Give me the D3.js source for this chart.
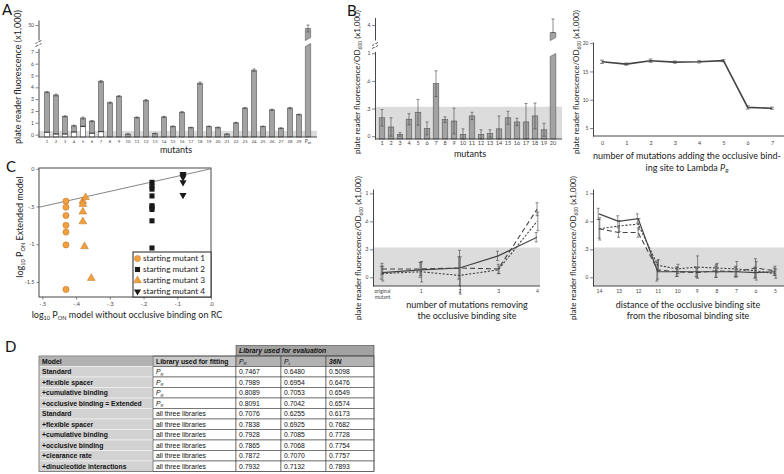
<!DOCTYPE html>
<html lang="en">
<head>
<meta charset="UTF-8">
<title>Occlusive binding site figure</title>
<style>
  body { margin: 0; background: #fff; }
  svg { display: block; font-family: Lato, 'Open Sans', sans-serif; }
  .tbl text { font-family: 'Liberation Sans', Arial, sans-serif; font-size: 6.8px; fill: #111; }
</style>
</head>
<body>
<svg id="fig" width="784" height="474"></svg>
<script src="https://d3js.org/d3.v7.min.js"></script>
<script>
// ---------- data ----------
// Panel A: 29 mutants + wild type promoter
const mutantsA = ["1","2","3","4","5","6","7","8","9","10","11","12","13","14","15","16","17","18","19","20","21","22","23","24","25","26","27","28","29","Pwt"];
const fluorA = [3.6,3.35,1.55,0.75,1.4,1.15,4.5,2.7,3.25,0.05,1.45,2.9,0.1,1.5,0.7,1.9,0.6,4.35,0.7,0.6,0.05,1.0,2.25,5.45,0.7,2.1,0.55,2.25,1.7,49.3];
const errA = [0.05,0.08,0.05,0.05,0.08,0.05,0.08,0.06,0.05,0.02,0.05,0.07,0.03,0.05,0.04,0.05,0.03,0.1,0.03,0.04,0.02,0.05,0.05,0.1,0.03,0.05,0.03,0.05,0.04,0.7];
const originalA = [0.2,0.05,0.05,0.22,0.7,0.12,0.25,0,0,0,0,0,0,0,0,0,0,0,0,0,0,0,0,0,0,0,0,0,0,0];
const yTicksA = [0,1,2,3,4,5,6,7];

// Panel B (top left): 20 mutants
const mutantsB = ["1","2","3","4","5","6","7","8","9","10","11","12","13","14","15","16","17","18","19","20"];
const fluorB = [0.20,0.10,0.02,0.185,0.26,0.085,0.57,0.18,0.165,0.02,0.22,0.02,0.03,0.08,0.20,0.155,0.155,0.22,0.07,3.5];
const errB = [0.09,0.1,0.02,0.06,0.14,0.07,0.14,0.03,0.14,0.06,0.04,0.05,0.04,0.14,0.07,0.04,0.2,0.14,0.07,0.9];
const odTicks = [0, 0.3, 0.6, 0.9];
const odTickLabels = ["0", ".3", ".6", "1"];

// Panel B (top right): mutations adding the site to Lambda PR
const addSteps = [0,1,2,3,4,5,6,7];
const addVals = [16.7,16.3,16.9,16.65,16.7,16.9,8.65,8.5];
const addErr = [0.3,0.2,0.3,0.2,0.2,0.2,0.3,0.2];
const addTicks = [5,10,15,20];

// Panel B (bottom middle): mutations removing the site
const removeSteps = ["original mutant","1","2","3","4"];
const removeSolid = [0.05,0.08,0.10,0.23,0.43];
const removeSolidErr = [0.07,0.08,0.12,0.05,0.05];
const removeLong = [0.09,0.09,0.10,0.09,0.73];
const removeLongErr = [0.06,0.07,0.19,0.05,0.07];
const removeDot = [0.04,0.06,0.02,0.08,0.60];
const removeDotErr = [0.08,0.11,0.2,0.04,0.1];

// Panel B (bottom right): distance to the ribosomal binding site
const distances = ["14","13","12","11","10","9","8","7","6","5"];
const distSolid = [0.68,0.60,0.63,0.06,0.06,0.06,0.06,0.06,0.05,0.06];
const distSolidErr = [0.06,0.06,0.05,0.1,0.05,0.05,0.06,0.05,0.06,0.04];
const distDot = [0.52,0.55,0.57,0.13,0.09,0.11,0.10,0.09,0.07,0.04];
const distDotErr = [0.12,0.06,0.06,0.06,0.05,0.12,0.05,0.08,0.1,0.05];
const distLong = [0.52,0.48,0.48,0.08,0.06,0.05,0.07,0.06,0.10,0.07];
const distLongErr = [0.1,0.05,0.05,0.1,0.05,0.05,0.07,0.06,0.1,0.05];

// Panel C: log10 PON, model without occlusion (x) vs Extended model (y)
const mut1X = [-0.43,-0.43,-0.43,-0.43,-0.43,-0.43,-0.43];
const mut1Y = [-0.43,-0.51,-0.62,-0.75,-0.84,-1.01,-1.60];
const mut2X = [-0.175,-0.175,-0.175,-0.175,-0.175,-0.175,-0.175,-0.175,-0.175];
const mut2Y = [-0.18,-0.23,-0.27,-0.36,-0.49,-0.51,-0.54,-0.69,-1.05];
const mut3X = [-0.38,-0.38,-0.38,-0.38,-0.372,-0.375,-0.355];
const mut3Y = [-0.43,-0.47,-0.57,-0.70,-0.38,-1.03,-1.45];
const mut4X = [-0.083,-0.083,-0.083,-0.083,-0.083];
const mut4Y = [-0.07,-0.09,-0.115,-0.18,-0.35];
const cXTicks = [-0.5,-0.4,-0.3,-0.2,-0.1,0];
const cXTickLabels = ["-.5","-.4","-.3","-.2","-.1",".0"];
const cYTicks = [0,-0.5,-1,-1.5];
const cYTickLabels = ["0","-.5","-1","-1.5"];
const legendC = ["starting mutant 1","starting mutant 2","starting mutant 3","starting mutant 4"];

// Panel D: table
const models = ["Standard","+flexible spacer","+cumulative binding","+occlusive binding = Extended","Standard","+flexible spacer","+cumulative binding","+occlusive binding","+clearance rate","+dinucleotide interactions"];
const fitLibs = ["PR","PR","PR","PR","all three libraries","all three libraries","all three libraries","all three libraries","all three libraries","all three libraries"];
const evalPR = ["0.7467","0.7989","0.8089","0.8091","0.7076","0.7838","0.7928","0.7865","0.7872","0.7932"];
const evalPL = ["0.6480","0.6954","0.7053","0.7042","0.6255","0.6925","0.7085","0.7068","0.7070","0.7132"];
const eval36N = ["0.5098","0.6476","0.6549","0.6574","0.6173","0.7682","0.7728","0.7754","0.7757","0.7893"];

// ---------- helpers ----------
const svg = d3.select("#fig");
const BAR = "#a3a3a3", BAR_EDGE = "#555", BAND = "#dcdcdc", INK = "#333", LINE = "#444";

function styleAxis(g, size) {
  g.attr("font-family", "Lato, sans-serif").attr("font-size", size);
  g.selectAll("text").attr("fill", "#444");
  g.selectAll(".tick line").attr("stroke", INK).attr("stroke-width", 0.6);
  g.select(".domain").attr("stroke", INK).attr("stroke-width", 0.9);
}

// text with sub/italic pieces
function richText(g, parts) {
  parts.forEach(p => {
    const ts = g.append("tspan").text(p.t);
    if (p.i) ts.attr("font-style", "italic");
    if (p.sub) ts.attr("font-size", "0.62em").attr("dy", p.dy || 2);
    if (p.up) ts.attr("dy", -p.up);
  });
  return g;
}

function rotLabel(x, y, size, parts) {
  const t = svg.append("text")
    .attr("transform", `translate(${x},${y}) rotate(-90)`)
    .attr("text-anchor", "middle").attr("font-size", size).attr("fill", "#222");
  richText(t, parts);
}

function label(x, y, size, parts, anchor) {
  const t = svg.append("text").attr("x", x).attr("y", y)
    .attr("text-anchor", anchor || "middle").attr("font-size", size).attr("fill", "#222");
  richText(t, parts);
  return t;
}

function errorBars(g, pts, cap) {
  const eg = g.append("g").attr("stroke", "#444").attr("stroke-width", 0.6);
  eg.selectAll("line.v").data(pts).join("line").attr("class", "v")
    .attr("x1", d => d.x).attr("x2", d => d.x).attr("y1", d => d.y1).attr("y2", d => d.y2);
  eg.selectAll("line.t").data(pts).join("line").attr("class", "t")
    .attr("x1", d => d.x - cap).attr("x2", d => d.x + cap).attr("y1", d => d.y2).attr("y2", d => d.y2);
  eg.selectAll("line.b").data(pts).join("line").attr("class", "b")
    .attr("x1", d => d.x - cap).attr("x2", d => d.x + cap).attr("y1", d => d.y1).attr("y2", d => d.y1);
}

function breakMarks(x, y) {
  const g = svg.append("g").attr("stroke", INK).attr("stroke-width", 0.8);
  [0, 3].forEach(o => g.append("line").attr("x1", x - 3).attr("y1", y + o + 1.5).attr("x2", x + 3).attr("y2", y + o - 1.5));
  svg.append("rect").attr("x", x - 1).attr("y", y - 0.2).attr("width", 2).attr("height", 3.4).attr("fill", "#fff");
}

function brokenBar(g, x, w, top, upBottom, lowTop, base) {
  g.append("path").attr("d", `M${x},${top}H${x + w}V${upBottom - 1.5}L${x},${upBottom + 1.5}Z`)
    .attr("fill", BAR).attr("stroke", BAR_EDGE).attr("stroke-width", 0.6);
  g.append("path").attr("d", `M${x},${lowTop + 1.5}L${x + w},${lowTop - 1.5}V${base}H${x}Z`)
    .attr("fill", BAR).attr("stroke", BAR_EDGE).attr("stroke-width", 0.6);
}

// panel letters
[["A", 2, 14.5], ["B", 347, 16], ["C", 6, 172], ["D", 5, 352]].forEach(([t, x, y]) =>
  svg.append("text").attr("x", x).attr("y", y).attr("font-size", 15).attr("fill", "#111").text(t));

// ---------- Panel A ----------
{
  const g = svg.append("g");
  const base = 137;
  const x = d3.scaleBand().domain(mutantsA).range([42.5, 312.5]).paddingInner(0.42).paddingOuter(0.21);
  const y = d3.scaleLinear().domain([-0.2, 7.3]).range([base, 48.3]);
  const yTop = d3.scaleLinear().domain([47, 51]).range([40, 20]);

  g.append("rect").attr("x", 38.5).attr("y", y(0.32)).attr("width", 317 - 38.5).attr("height", base - y(0.32)).attr("fill", BAND);

  const rows = mutantsA.map((m, i) => ({ m, v: fluorA[i], e: errA[i], o: originalA[i] }));
  const normal = rows.filter(d => d.v < 8);
  g.selectAll("rect.bar").data(normal).join("rect").attr("class", "bar")
    .attr("x", d => x(d.m)).attr("width", x.bandwidth())
    .attr("y", d => y(d.v)).attr("height", d => base - y(d.v))
    .attr("fill", BAR).attr("stroke", BAR_EDGE).attr("stroke-width", 0.6);
  const orig = normal.filter(d => d.o > 0);
  g.selectAll("rect.orig").data(orig).join("rect").attr("class", "orig")
    .attr("x", d => x(d.m) + 0.5).attr("width", x.bandwidth() - 1)
    .attr("y", d => y(d.o)).attr("height", d => base - 0.4 - y(d.o)).attr("fill", "#fff");
  g.selectAll("line.orig").data(orig).join("line").attr("class", "orig")
    .attr("x1", d => x(d.m)).attr("x2", d => x(d.m) + x.bandwidth())
    .attr("y1", d => y(d.o)).attr("y2", d => y(d.o)).attr("stroke", "#111").attr("stroke-width", 0.9);

  const wt = rows.filter(d => d.v >= 8);
  wt.forEach(d => brokenBar(g, x(d.m), x.bandwidth(), yTop(d.v), 39, 45, base));

  const ePts = normal.map(d => ({ x: x(d.m) + x.bandwidth() / 2, y1: y(d.v - d.e), y2: y(d.v + d.e) }))
    .concat(wt.map(d => ({ x: x(d.m) + x.bandwidth() / 2, y1: yTop(d.v - d.e), y2: yTop(d.v + d.e) })));
  errorBars(g, ePts, 1.5);

  const ax = svg.append("g").attr("transform", "translate(38.5,0)")
    .call(d3.axisLeft(y).tickValues(yTicksA).tickSize(3).tickSizeOuter(0).tickPadding(1.5));
  styleAxis(ax, 5);
  const axT = svg.append("g").attr("transform", "translate(38.5,0)")
    .call(d3.axisLeft(yTop).tickValues([50]).tickFormat(d3.format("d")).tickSize(3).tickSizeOuter(0).tickPadding(1.5));
  styleAxis(axT, 5);
  breakMarks(38.5, 42);

  const bx = svg.append("g").attr("transform", `translate(0,${base})`)
    .call(d3.axisBottom(x).tickSize(0).tickPadding(2.5));
  styleAxis(bx, 4.3);
  bx.select(".domain").attr("d", "M38.5,0H317");
  bx.selectAll(".tick text").filter(d => d === "Pwt").text(null).call(t => {
    t.append("tspan").text("P").attr("font-style", "italic").attr("font-size", 5);
    t.append("tspan").text("wt").attr("font-size", 3.3).attr("dy", 1);
  });

  label(176, 153, 9, [{ t: "mutants" }]);
  rotLabel(21, 77, 9, [{ t: "plate reader fluorescence (x1,000)" }]);
}

// ---------- Panel B top left ----------
{
  const g = svg.append("g");
  const base = 139;
  const x = d3.scaleBand().domain(mutantsB).range([377.5, 557.5]).paddingInner(0.38).paddingOuter(0.19);
  const y = d3.scaleLinear().domain([-0.03, 0.92]).range([base, 51.4]);
  const yTop = d3.scaleLinear().domain([3, 4.5]).range([40, 17.5]);

  g.append("rect").attr("x", 375).attr("y", y(0.32)).attr("width", 562 - 375).attr("height", base - y(0.32)).attr("fill", BAND);
  const rows = mutantsB.map((m, i) => ({ m, v: fluorB[i], e: errB[i] }));
  const normal = rows.filter(d => d.v < 1);
  g.selectAll("rect.bar").data(normal).join("rect").attr("class", "bar")
    .attr("x", d => x(d.m)).attr("width", x.bandwidth())
    .attr("y", d => y(d.v)).attr("height", d => base - y(d.v))
    .attr("fill", BAR).attr("stroke", BAR_EDGE).attr("stroke-width", 0.6);
  const big = rows.filter(d => d.v >= 1);
  big.forEach(d => brokenBar(g, x(d.m), x.bandwidth(), yTop(d.v), 39, 55, base));
  const ePts = normal.map(d => ({ x: x(d.m) + x.bandwidth() / 2, y1: y(Math.max(d.v - d.e, -0.03)), y2: y(d.v + d.e) }))
    .concat(big.map(d => ({ x: x(d.m) + x.bandwidth() / 2, y1: yTop(d.v), y2: yTop(d.v + d.e) })));
  errorBars(g, ePts, 1.5);

  const ax = svg.append("g").attr("transform", "translate(375,0)")
    .call(d3.axisLeft(y).tickValues(odTicks).tickFormat((d, i) => odTickLabels[i]).tickSize(3).tickSizeOuter(0).tickPadding(1.5));
  styleAxis(ax, 5);
  const axT = svg.append("g").attr("transform", "translate(375,0)")
    .call(d3.axisLeft(yTop).tickValues([4]).tickFormat(d3.format("d")).tickSize(3).tickSizeOuter(0).tickPadding(1.5));
  styleAxis(axT, 5);
  breakMarks(375, 44);

  const bx = svg.append("g").attr("transform", `translate(0,${base})`)
    .call(d3.axisBottom(x).tickSize(0).tickPadding(2.5));
  styleAxis(bx, 5.5);
  bx.select(".domain").attr("d", "M375,0H562");

  label(470, 157, 9, [{ t: "mutants" }]);
  rotLabel(360, 82, 8, [{ t: "plate reader fluorescence/OD" }, { t: "600", sub: true }, { t: " (x1,000)", up: 2 }]);
}

// ---------- Panel B top right ----------
{
  const g = svg.append("g");
  const x = d3.scaleLinear().domain([0, 7]).range([602, 772]);
  const y = d3.scaleLinear().domain([3.6, 20.2]).range([136, 42]);
  const ax = svg.append("g").attr("transform", "translate(593,0)")
    .call(d3.axisLeft(y).tickValues(addTicks).tickSize(3).tickSizeOuter(0).tickPadding(1.5));
  styleAxis(ax, 5);
  const bx = svg.append("g").attr("transform", "translate(0,136)")
    .call(d3.axisBottom(x).tickValues(addSteps).tickSize(0).tickPadding(5).tickFormat(d3.format("d")));
  styleAxis(bx, 5.5);
  bx.select(".domain").attr("d", "M593,0H784");

  const pts = addSteps.map((s, i) => ({ s, v: addVals[i], e: addErr[i] }));
  g.append("path").datum(pts).attr("fill", "none").attr("stroke", LINE).attr("stroke-width", 1.6)
    .attr("d", d3.line().x(d => x(d.s)).y(d => y(d.v)));
  errorBars(g, pts.map(d => ({ x: x(d.s), y1: y(d.v - d.e), y2: y(d.v + d.e) })), 2);

  label(687, 159, 9, [{ t: "number of mutations adding the occlusive bind-" }]);
  label(687, 171, 9, [{ t: "ing site to Lambda " }, { t: "P", i: true }, { t: "R", i: true, sub: true }]);
  rotLabel(579, 82, 8, [{ t: "plate reader fluorescence/OD" }, { t: "600", sub: true }, { t: " (x1,000)", up: 2 }]);
}

// ---------- bottom B panels (shared style) ----------
function seriesPanel(opts) {
  const g = svg.append("g");
  const base = 286;
  const y = d3.scaleLinear().domain([-0.093, 0.947]).range([base, 189]);
  const x = d3.scalePoint().domain(opts.cats).range(opts.range);
  g.append("rect").attr("x", opts.axisX).attr("y", y(0.32)).attr("width", opts.right - opts.axisX)
    .attr("height", base - y(0.32)).attr("fill", BAND);
  const dashes = [null, "5,3", "2.2,1.6"];
  opts.series.forEach((s, k) => {
    const pts = opts.cats.map((c, i) => ({ c, v: s.v[i], e: s.e[i] }));
    errorBars(g, pts.map(d => ({ x: x(d.c) + (k - 1) * 0.8, y1: y(d.v - d.e), y2: y(d.v + d.e) })), 1.5);
  });
  opts.series.forEach((s, k) => {
    const pts = opts.cats.map((c, i) => ({ c, v: s.v[i] }));
    g.append("path").datum(pts).attr("fill", "none").attr("stroke", LINE)
      .attr("stroke-width", k === 0 ? 1.2 : 1.1).attr("stroke-dasharray", dashes[k])
      .attr("d", d3.line().x(d => x(d.c)).y(d => y(d.v)));
  });
  const ax = svg.append("g").attr("transform", `translate(${opts.axisX},0)`)
    .call(d3.axisLeft(y).tickValues(odTicks).tickFormat((d, i) => odTickLabels[i]).tickSize(3).tickSizeOuter(0).tickPadding(1.5));
  styleAxis(ax, 5);
  const bx = svg.append("g").attr("transform", `translate(0,${base})`)
    .call(d3.axisBottom(x).tickSize(0).tickPadding(3));
  styleAxis(bx, 5);
  bx.select(".domain").attr("d", `M${opts.axisX},0H${opts.right}`);
  return bx;
}

{
  const bx = seriesPanel({
    cats: removeSteps, range: [382, 537], axisX: 373, right: 540,
    series: [{ v: removeSolid, e: removeSolidErr }, { v: removeLong, e: removeLongErr }, { v: removeDot, e: removeDotErr }]
  });
  bx.selectAll(".tick text").filter(d => d === "original mutant").text(null).call(t => {
    t.append("tspan").attr("x", 0).text("original");
    t.append("tspan").attr("x", 0).attr("dy", 6).text("mutant");
  });
  label(467, 308, 9, [{ t: "number of mutations removing" }]);
  label(467, 319, 9, [{ t: "the occlusive binding site" }]);
  rotLabel(361, 248, 8, [{ t: "plate reader fluorescence/OD" }, { t: "600", sub: true }, { t: " (x1,000)", up: 2 }]);
}
{
  seriesPanel({
    cats: distances, range: [599, 775], axisX: 593, right: 784,
    series: [{ v: distSolid, e: distSolidErr }, { v: distLong, e: distLongErr }, { v: distDot, e: distDotErr }]
  });
  label(688, 308, 9, [{ t: "distance of the occlusive binding site" }]);
  label(688, 319, 9, [{ t: "from the ribosomal binding site" }]);
  rotLabel(576, 248, 8, [{ t: "plate reader fluorescence/OD" }, { t: "600", sub: true }, { t: " (x1,000)", up: 2 }]);
}

// ---------- Panel C ----------
{
  const g = svg.append("g");
  const x = d3.scaleLinear().domain([-0.51, 0]).range([39, 211]);
  const y = d3.scaleLinear().domain([0.01, -1.70]).range([168, 297]);
  g.append("rect").attr("x", 39).attr("y", 168).attr("width", 172).attr("height", 129)
    .attr("fill", "none").attr("stroke", INK).attr("stroke-width", 0.9);
  g.append("line").attr("x1", x(-0.51)).attr("y1", y(-0.51)).attr("x2", x(0)).attr("y2", y(0))
    .attr("stroke", "#777").attr("stroke-width", 0.9);

  const ORANGE = "#f2a03d", ORANGE_EDGE = "#b8732a", BLACK = "#1a1a1a";
  const groups = [
    { xs: mut1X, ys: mut1Y, sym: d3.symbolCircle, size: 30, fill: ORANGE, rot: 0 },
    { xs: mut2X, ys: mut2Y, sym: d3.symbolSquare, size: 26, fill: BLACK, rot: 0 },
    { xs: mut3X, ys: mut3Y, sym: d3.symbolTriangle, size: 26, fill: ORANGE, rot: 0 },
    { xs: mut4X, ys: mut4Y, sym: d3.symbolTriangle, size: 22, fill: BLACK, rot: 180 }
  ];
  groups.forEach(gr => {
    const pts = gr.xs.map((v, i) => [v, gr.ys[i]]);
    g.selectAll(null).data(pts).join("path")
      .attr("transform", d => `translate(${x(d[0])},${y(d[1])}) rotate(${gr.rot})`)
      .attr("d", d3.symbol(gr.sym, gr.size)())
      .attr("fill", gr.fill).attr("stroke", gr.fill === ORANGE ? ORANGE_EDGE : "none").attr("stroke-width", 0.5);
  });

  const ax = svg.append("g").attr("transform", "translate(39,0)")
    .call(d3.axisLeft(y).tickValues(cYTicks).tickFormat((d, i) => cYTickLabels[i]).tickSize(2.5).tickSizeOuter(0).tickPadding(2));
  styleAxis(ax, 5.5);
  ax.select(".domain").remove();
  const bx = svg.append("g").attr("transform", "translate(0,297)")
    .call(d3.axisBottom(x).tickValues(cXTicks).tickFormat((d, i) => cXTickLabels[i]).tickSize(2.5).tickSizeOuter(0).tickPadding(2.5));
  styleAxis(bx, 5.5);
  bx.select(".domain").remove();

  // legend
  const lg = svg.append("g");
  lg.append("rect").attr("x", 133).attr("y", 252).attr("width", 78).attr("height", 45)
    .attr("fill", "#fff").attr("stroke", "#222").attr("stroke-width", 1);
  legendC.forEach((t, i) => {
    const ly = 258.5 + i * 11;
    const gr = groups[i];
    lg.append("path").attr("transform", `translate(137.5,${ly}) rotate(${gr.rot})`)
      .attr("d", d3.symbol(gr.sym, gr.size)())
      .attr("fill", gr.fill).attr("stroke", gr.fill === ORANGE ? ORANGE_EDGE : "none").attr("stroke-width", 0.5);
    lg.append("text").attr("x", 143).attr("y", ly + 2.9).attr("font-size", 8.2).attr("fill", "#222").text(t);
  });

  label(127, 318, 9, [{ t: "log" }, { t: "10", sub: true }, { t: " P", up: 2 }, { t: "ON", sub: true }, { t: " model without occlusive binding on RC", up: 2 }]);
  rotLabel(23, 227, 9, [{ t: "log" }, { t: "10", sub: true }, { t: " P", up: 2 }, { t: "ON", sub: true }, { t: " Extended model", up: 2 }]);
}

// ---------- Panel D: table ----------
{
  const g = svg.append("g").attr("class", "tbl");
  const colX = [39, 153, 236, 281, 326, 374];
  const top = 356, rh = 10.5;
  const cellRect = (x0, x1, y0, fill, stroke) => g.append("rect").attr("x", x0).attr("y", y0)
    .attr("width", x1 - x0).attr("height", rh).attr("fill", fill).attr("stroke", stroke).attr("stroke-width", 0.6);

  // group header
  cellRect(colX[2], colX[5], top - rh, "#a2a2a2", "#444");
  g.append("text").attr("x", colX[2] + 3).attr("y", top - rh + 7.6).attr("font-weight", "bold").attr("font-style", "italic")
    .text("Library used for evaluation");

  // header row
  const heads = [[{ t: "Model" }], [{ t: "Library used for fitting" }], [{ t: "P", i: true }, { t: "R", i: true, sub: true, dy: 1.5 }],
    [{ t: "P", i: true }, { t: "L", i: true, sub: true, dy: 1.5 }], [{ t: "36N", i: true }]];
  const headFill = ["#b2b2b2", "#c9c9c9", "#b2b2b2", "#b2b2b2", "#b2b2b2"];
  heads.forEach((h, c) => {
    cellRect(colX[c], colX[c + 1], top, headFill[c], c === 0 ? "#fff" : "#444");
    const t = g.append("text").attr("x", colX[c] + 3).attr("y", top + 7.6).attr("font-weight", c === 2 || c === 3 ? "normal" : "bold");
    richText(t, h);
  });

  const rows = models.map((m, i) => [m, fitLibs[i], evalPR[i], evalPL[i], eval36N[i]]);
  rows.forEach((r, i) => {
    const y0 = top + rh * (i + 1);
    r.forEach((v, c) => {
      cellRect(colX[c], colX[c + 1], y0, c === 0 ? "#d2d2d2" : "#fff", c === 0 ? "#f4f4f4" : "#444");
      const t = g.append("text").attr("x", colX[c] + 3).attr("y", y0 + 7.6);
      if (c === 0) t.attr("font-weight", "bold").text(v);
      else if (c === 1 && v === "PR") richText(t, [{ t: "P", i: true }, { t: "R", i: true, sub: true, dy: 1.5 }]);
      else t.text(v);
    });
  });
  g.append("rect").attr("x", colX[0]).attr("y", top).attr("width", colX[5] - colX[0]).attr("height", rh * 11)
    .attr("fill", "none").attr("stroke", "#555").attr("stroke-width", 0.7);
}
</script>
</body>
</html>
